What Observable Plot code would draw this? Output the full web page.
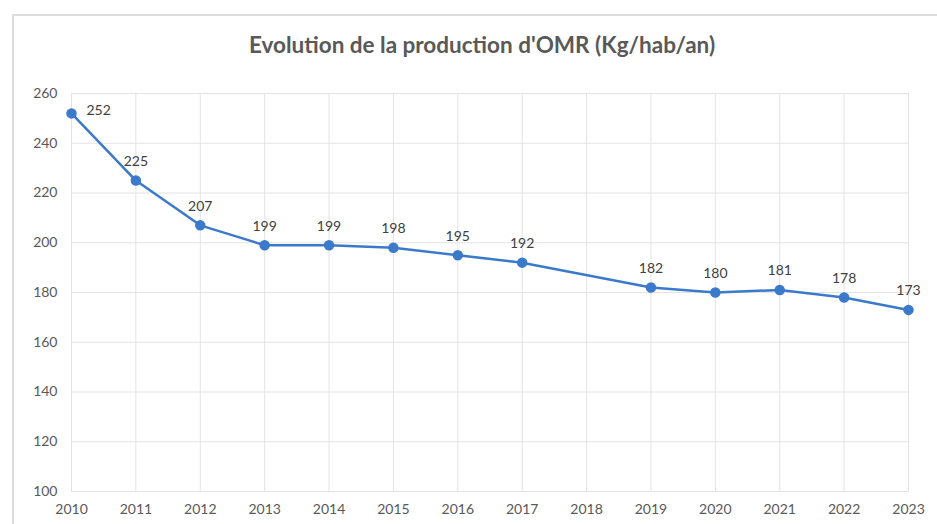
<!DOCTYPE html>
<html>
<head>
<meta charset="utf-8">
<script src="https://cdn.jsdelivr.net/npm/d3@7"></script>
<script src="https://cdn.jsdelivr.net/npm/@observablehq/plot@0.6"></script>
<style>
  html, body { margin: 0; padding: 0; background: #fff; }
  #wrap { position: relative; width: 937px; height: 524px; overflow: hidden; }
  #border { position: absolute; left: 12px; top: 14px; width: 960px; height: 560px; border: 2px solid #dcdcdc; pointer-events: none; box-sizing: border-box; }
</style>
</head>
<body>
<div id="wrap"><div id="border"></div></div>
<script>
const title = "Evolution de la production d'OMR (Kg/hab/an)";
const tickYears = [2010, 2011, 2012, 2013, 2014, 2015, 2016, 2017, 2018, 2019, 2020, 2021, 2022, 2023];
const years = [2010, 2011, 2012, 2013, 2014, 2015, 2016, 2017, 2019, 2020, 2021, 2022, 2023];
const values = [252, 225, 207, 199, 199, 198, 195, 192, 182, 180, 181, 178, 173];
const yTicks = [100, 120, 140, 160, 180, 200, 220, 240, 260];

const data = years.map((y, i) => ({year: y, value: values[i]}));
const first = data.slice(0, 1);
const rest = data.slice(1);

const chart = Plot.plot({
  width: 937,
  height: 524,
  marginLeft: 71,
  marginRight: 29,
  marginTop: 93,
  marginBottom: 33,
  style: {fontFamily: "Lato, 'Liberation Sans', Arial, sans-serif", fontSize: "14px", color: "#595959", background: "transparent"},
  x: {domain: [2010, 2023], ticks: tickYears, tickFormat: d => String(d), tickSize: 0, tickPadding: 13, label: null},
  y: {domain: [100, 260], ticks: yTicks, tickSize: 0, tickPadding: 14, label: null},
  marks: [
    Plot.gridX(tickYears, {stroke: "#e3e3e3", strokeOpacity: 1, strokeWidth: 1}),
    Plot.gridY(yTicks, {stroke: "#e3e3e3", strokeOpacity: 1, strokeWidth: 1}),
    Plot.axisX({ticks: tickYears, tickFormat: d => String(d), tickSize: 0, tickPadding: 13, fill: "#595959", fontSize: 14}),
    Plot.axisY({ticks: yTicks, tickSize: 0, tickPadding: 14, fill: "#595959", fontSize: 14}),
    Plot.line(data, {x: "year", y: "value", stroke: "#3b7acb", strokeWidth: 2.5}),
    Plot.dot(data, {x: "year", y: "value", r: 4.5, fill: "#3b7acb", stroke: "#3b7acb"}),
    Plot.text(first, {x: "year", y: "value", text: d => String(d.value), dx: 15, dy: -3, textAnchor: "start", fill: "#404040", fontSize: 14}),
    Plot.text(rest, {x: "year", y: "value", text: d => String(d.value), dy: -19, fill: "#404040", fontSize: 14}),
    Plot.text([title], {frameAnchor: "top", lineAnchor: "middle", dx: -8, dy: -48, text: d => d, fontSize: 22.5, fontWeight: "bold", fill: "#595959"})
  ]
});
document.getElementById("wrap").prepend(chart);
</script>
</body>
</html>
